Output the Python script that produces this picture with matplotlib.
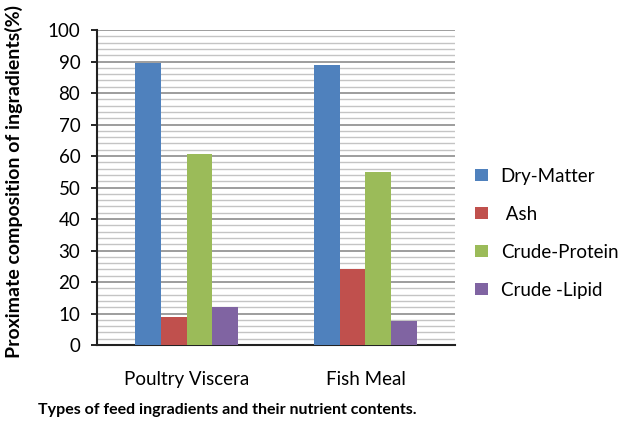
import matplotlib.pyplot as plt
import numpy as np

categories = ['Poultry Viscera', 'Fish Meal']
series = ['Dry-Matter', ' Ash', 'Crude-Protein', 'Crude -Lipid']
dry_matter = [89.6, 88.9]
ash = [8.9, 24.0]
crude_protein = [60.5, 55.0]
crude_lipid = [12.2, 7.7]
colors = ['#4F81BD', '#C0504D', '#9BBB59', '#8064A2']

plt.rcParams['font.family'] = ['Lato', 'DejaVu Sans']

fig = plt.figure(figsize=(6.28, 4.21), dpi=100)
ax = fig.add_axes([0.1545, 0.1805, 0.570, 0.748])

x = np.arange(len(categories))
w = 0.143
values = [dry_matter, ash, crude_protein, crude_lipid]
for i, (vals, name, c) in enumerate(zip(values, series, colors)):
    ax.bar(x + (i - 1.5) * w, vals, width=w, color=c, label=name, zorder=3)

ax.set_xlim(-0.5, 1.5)
ax.set_ylim(0, 100)
ax.set_yticks(range(0, 101, 10))
ax.set_yticks(range(0, 101, 2), minor=True)
ax.grid(axis='y', which='major', color='#8c8c8c', linewidth=1.2, zorder=0)
ax.grid(axis='y', which='minor', color='#c4c4c4', linewidth=1.0, zorder=0)
ax.tick_params(axis='y', which='major', direction='out', length=4, labelsize=13.5,
               width=1.2, pad=8)
ax.tick_params(axis='y', which='minor', length=0)
ax.tick_params(axis='x', length=0, labelsize=13.5, pad=19)
ax.set_xticks(x)
ax.set_xticklabels(categories)

for s in ['top', 'right']:
    ax.spines[s].set_visible(False)
ax.spines['left'].set_linewidth(1.5)
ax.spines['bottom'].set_linewidth(1.5)
ax.spines['left'].set_color('#222222')
ax.spines['bottom'].set_color('#222222')

fig.text(0.022, 0.57, 'Proximate composition of ingradients(%)', rotation=90,
         ha='center', va='center', fontsize=14, fontweight='bold')
fig.text(0.362, 0.026, 'Types of feed ingradients and their nutrient contents.',
         ha='center', va='center', fontsize=11.5, fontweight='bold')

ax.legend(loc='center left', bbox_to_anchor=(1.036, 0.355), borderaxespad=0,
          frameon=False, fontsize=13.5, handlelength=0.65, handleheight=0.65,
          labelspacing=1.12, handletextpad=0.7)

fig.savefig('out.png', dpi=100)
